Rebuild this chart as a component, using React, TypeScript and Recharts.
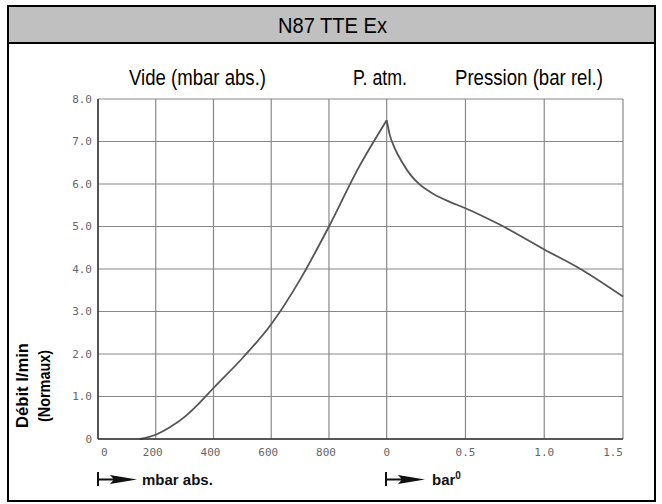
import { CartesianGrid, Line, LineChart, XAxis, YAxis } from 'recharts';

// vacuum side (mbar abs.)
const vacuumMbar = [145, 200, 250, 300, 350, 400, 500, 600, 700, 800, 900, 1000];
const vacuumFlow = [0, 0.1, 0.28, 0.52, 0.84, 1.2, 1.9, 2.7, 3.75, 5.0, 6.35, 7.5];

// pressure side (bar rel.)
const pressureBar = [0, 0.02, 0.05, 0.1, 0.15, 0.2, 0.3, 0.4, 0.5, 0.6, 0.72, 1.0, 1.23, 1.5];
const pressureFlow = [7.5, 7.15, 6.85, 6.5, 6.22, 6.02, 5.76, 5.58, 5.43, 5.26, 5.04, 4.46, 4.0, 3.35];

const mbarTicks = [0, 200, 400, 600, 800];
const barTicks = [0, 0.5, 1.0, 1.5];
const barTickLabels = ['0', '0.5', '1.0', '1.5'];
const flowTicks = [0, 1, 2, 3, 4, 5, 6, 7, 8];

// the x axis is split: 0..1000 mbar, then 0..1.5 bar on a wider scale
const BAR_SCALE = 545.7;
const toU = (bar: number) => 1000 + bar * BAR_SCALE;

const vacuumData = vacuumMbar.map((m, i) => ({ u: m, flow: vacuumFlow[i] }));
const pressureData = pressureBar.map((b, i) => ({ u: toU(b), flow: pressureFlow[i] }));
const xTicks = [...mbarTicks, ...barTicks.map(toU)];
const xTickLabels = [...mbarTicks.map(String), ...barTickLabels];

const MONO = "'DejaVu Sans Mono', monospace";
const NARROW = "'Liberation Sans Narrow', 'Liberation Sans', Arial, sans-serif";
const SANS = "'Liberation Sans', Arial, sans-serif";

const XTick = (props: any) => {
  const { x, y, index } = props;
  const last = xTicks.length - 1;
  let anchor = 'middle';
  let dx = index < mbarTicks.length ? -3 : 0;
  if (index === 0) {
    anchor = 'start';
    dx = 3;
  } else if (index === last) {
    anchor = 'end';
    dx = 0;
  }
  return (
    <text x={x + dx} y={y + 17} textAnchor={anchor} fontFamily={MONO} fontSize={11} fill="#666">
      {xTickLabels[index]}
    </text>
  );
};

const Arrow = ({ x }: { x: number }) => (
  <g fill="#111">
    <rect x={x} y={472} width={2} height={14} />
    <rect x={x} y={478.5} width={18} height={2} />
    <polygon points={`${x + 13},475 ${x + 40},479.5 ${x + 13},484 ${x + 17},479.5`} />
  </g>
);

export default function App() {
  return (
    <div style={{ position: 'absolute', left: 0, top: 0, width: 662, height: 504, background: '#fff' }}>
      <div
        style={{
          position: 'absolute',
          left: 7,
          top: 5,
          width: 649,
          height: 497,
          boxSizing: 'border-box',
          border: '2px solid #000',
        }}
      >
        <div style={{ height: 35, background: '#c0c0c0', borderBottom: '2px solid #000' }} />
      </div>

      <div style={{ position: 'absolute', left: 0, top: 0 }}>
        <LineChart
          width={662}
          height={504}
          margin={{ top: 99, right: 39, bottom: 45, left: 58 }}
        >
          <CartesianGrid stroke="#888" strokeWidth={1.2} />
          <XAxis
            type="number"
            dataKey="u"
            domain={[0, toU(1.5)]}
            ticks={xTicks}
            interval={0}
            height={20}
            tickLine={false}
            tickSize={0}
            tickMargin={0}
            axisLine={{ stroke: '#333', strokeWidth: 1.5 }}
            tick={<XTick />}
          />
          <YAxis
            type="number"
            domain={[0, 8]}
            ticks={flowTicks}
            interval={0}
            width={40}
            tickLine={false}
            tickSize={0}
            tickMargin={6}
            axisLine={{ stroke: '#333', strokeWidth: 1.5 }}
            tickFormatter={(v: number) => (v === 0 ? '0' : v.toFixed(1))}
            tick={{ fontFamily: MONO, fontSize: 11, fill: '#666' }}
          />
          <Line
            data={vacuumData}
            dataKey="flow"
            type="monotone"
            stroke="#555"
            strokeWidth={1.8}
            dot={false}
            isAnimationActive={false}
          />
          <Line
            data={pressureData}
            dataKey="flow"
            type="monotone"
            stroke="#555"
            strokeWidth={1.8}
            dot={false}
            isAnimationActive={false}
          />
        </LineChart>
      </div>

      <svg
        width={662}
        height={504}
        style={{ position: 'absolute', left: 0, top: 0, pointerEvents: 'none' }}
      >
        <text x={278} y={33} fontFamily={NARROW} fontSize={22} textLength={109} lengthAdjust="spacingAndGlyphs" fill="#000">
          N87 TTE Ex
        </text>
        <text x={129} y={85} fontFamily={NARROW} fontSize={22} textLength={137} lengthAdjust="spacingAndGlyphs" fill="#000">
          Vide (mbar abs.)
        </text>
        <text x={353} y={85} fontFamily={NARROW} fontSize={22} textLength={54} lengthAdjust="spacingAndGlyphs" fill="#000">
          P. atm.
        </text>
        <text x={455} y={85} fontFamily={NARROW} fontSize={22} textLength={148} lengthAdjust="spacingAndGlyphs" fill="#000">
          Pression (bar rel.)
        </text>
        <text
          transform="translate(28,385.5) rotate(-90)"
          textAnchor="middle"
          fontFamily={SANS}
          fontWeight="bold"
          fontSize={16}
          textLength={85}
          lengthAdjust="spacingAndGlyphs"
          fill="#000"
        >
          Débit l/min
        </text>
        <text
          transform="translate(50,386) rotate(-90)"
          textAnchor="middle"
          fontFamily={SANS}
          fontWeight="bold"
          fontSize={16}
          textLength={72}
          lengthAdjust="spacingAndGlyphs"
          fill="#000"
        >
          (Normaux)
        </text>
        <Arrow x={97} />
        <text x={142} y={485} fontFamily={SANS} fontWeight="bold" fontSize={15} fill="#111">
          mbar abs.
        </text>
        <Arrow x={385} />
        <text x={432} y={485} fontFamily={SANS} fontWeight="bold" fontSize={15} fill="#111">
          bar
          <tspan dy={-6} fontSize={10}>0</tspan>
        </text>
      </svg>
    </div>
  );
}
